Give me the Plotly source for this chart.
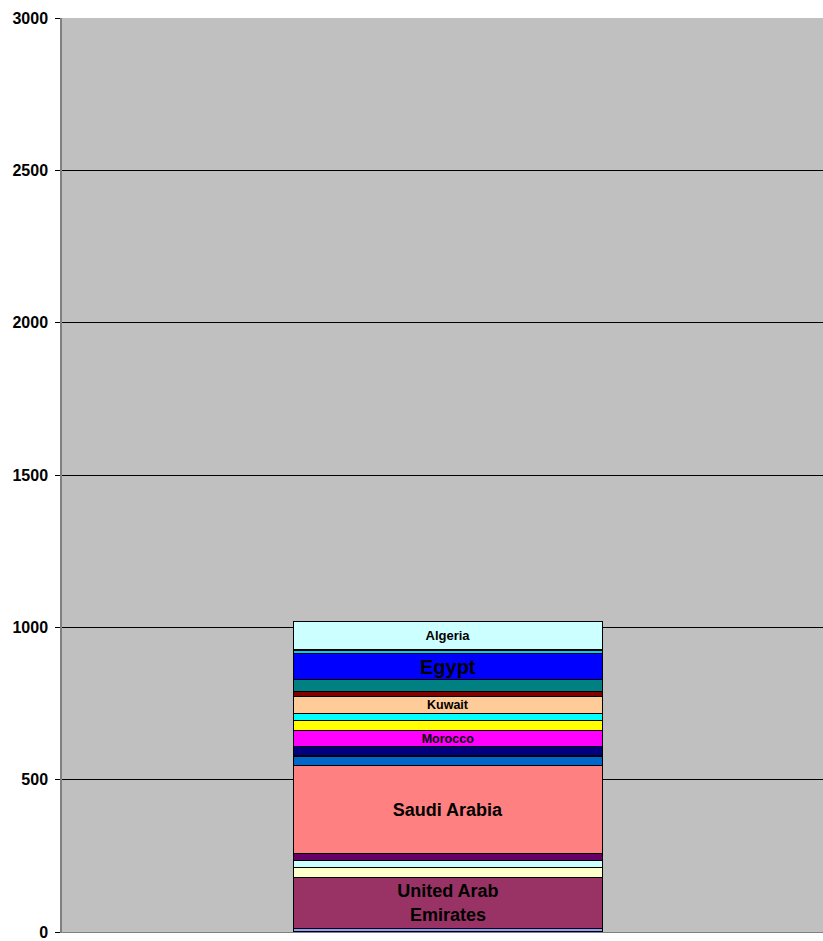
import plotly.graph_objects as go

# Stacked segments, bottom to top
segment_labels = ["", "United Arab<br>Emirates", "", "", "", "Saudi Arabia", "", "", "Morocco",
                  "", "", "Kuwait", "", "", "Egypt", "", "Algeria"]
segment_values = [12, 167, 32, 24, 23, 288, 32, 30, 54, 33, 22, 57, 15, 40, 84, 13, 93]
segment_colors = ["#9999FF", "#993366", "#FFFFCC", "#CCFFFF", "#660066", "#FF8080", "#0066CC",
                  "#000080", "#FF00FF", "#FFFF00", "#00FFFF", "#FFCC99", "#800000", "#008080",
                  "#0000FF", "#00CCFF", "#CCFFFF"]
label_sizes = [12, 18, 12, 12, 12, 18, 12, 12, 12.5, 12, 12, 12.5, 12, 12, 20, 12, 13]

y_ticks = [0, 500, 1000, 1500, 2000, 2500, 3000]

FONT = "Liberation Sans Narrow, Arial Narrow, Liberation Sans, Arial, sans-serif"

fig = go.Figure()
for lab, val, col, sz in zip(segment_labels, segment_values, segment_colors, label_sizes):
    fig.add_trace(go.Bar(
        x=[0], y=[val], width=[1],
        marker=dict(color=col, line=dict(color="black", width=1.3)),
        text=[lab],
        textposition="inside", insidetextanchor="middle",
        constraintext="none",
        textfont=dict(family=FONT, size=sz, color="black", weight="bold"),
        hoverinfo="skip", showlegend=False,
    ))

fig.update_layout(
    barmode="stack",
    width=823, height=941,
    margin=dict(l=62, r=0, t=18, b=9, autoexpand=False),
    paper_bgcolor="white",
    plot_bgcolor="#C0C0C0",
    font=dict(family=FONT, color="black"),
    xaxis=dict(range=[-1.249, 1.214], showticklabels=False, showgrid=False, zeroline=False,
               showline=True, linecolor="#808080", linewidth=1, ticks=""),
    yaxis=dict(range=[0, 3000], tickvals=y_ticks,
               showgrid=True, gridcolor="black", gridwidth=1, zeroline=False,
               showline=True, linecolor="#808080", linewidth=1.5,
               ticks="outside", ticklen=5, tickcolor="black", ticklabelstandoff=4,
               tickfont=dict(family=FONT, size=16, color="black", weight="bold")),
)

fig.write_html(
    "out.html",
    config={"displayModeBar": False},
    post_script="document.body.style.margin='0';document.documentElement.style.overflow='hidden';",
)
